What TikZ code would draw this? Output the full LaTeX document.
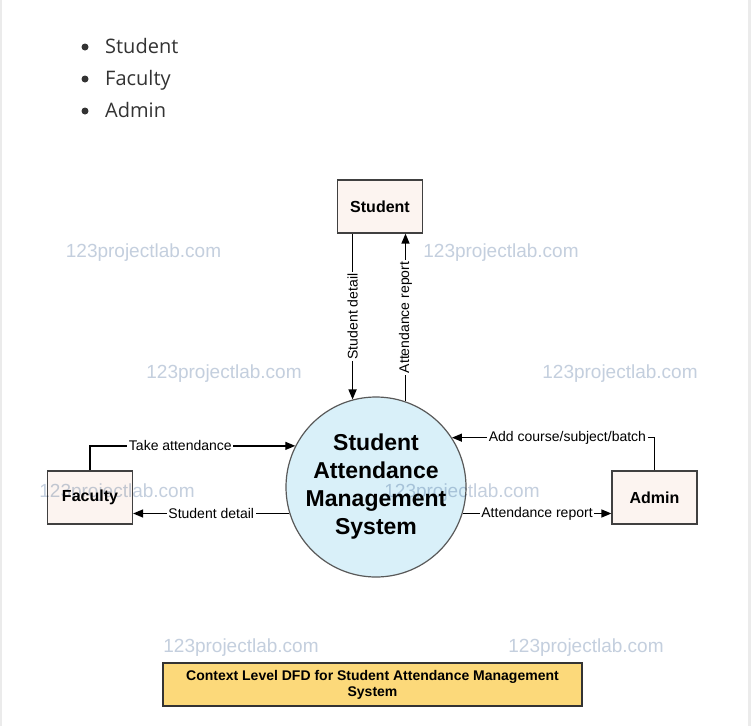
\documentclass[tikz,border=0pt]{standalone}
\usepackage{fontspec}
\setmainfont{Liberation Sans}
\newfontfamily\listfont{Open Sans}
\usepackage{xcolor}
\usetikzlibrary{arrows.meta, positioning, calc}

\definecolor{entityfill}{RGB}{252,244,240}
\definecolor{procfill}{RGB}{217,240,249}
\definecolor{titlefill}{RGB}{252,217,122}
\definecolor{wmarkgray}{RGB}{196,207,222}
\definecolor{listgray}{RGB}{51,51,51}
\definecolor{edgegray}{RGB}{235,235,235}

\begin{document}
\begin{tikzpicture}[x=1pt, y=-1pt,
    entity/.style={rectangle, draw=black!75, line width=1.2pt, fill=entityfill, minimum width=85pt, minimum height=53pt, font=\fontsize{16}{18}\selectfont\bfseries},
    process/.style={circle, draw=black!65, line width=1.2pt, fill=procfill, minimum size=180pt, inner sep=0pt, align=center, font=\fontsize{23}{28}\selectfont\bfseries},
    flow/.style={-{Triangle[length=10pt, width=8pt]}, line width=1.4pt},
    flowlabel/.style={fill=white, inner sep=1.5pt, font=\fontsize{14}{16}\selectfont},
    wmark/.style={text=wmarkgray, font=\fontsize{19}{21}\selectfont, blend mode=multiply},
    titlebox/.style={rectangle, draw=black!80, line width=1.2pt, fill=titlefill, minimum width=419pt, minimum height=43pt, inner sep=0pt, align=center, font=\fontsize{14}{16}\selectfont\bfseries},
    listitem/.style={anchor=base west, inner sep=0pt, text=listgray, font=\listfont\fontsize{20}{24}\selectfont},
    bulletdot/.style={circle, fill=listgray, inner sep=0pt, minimum size=7pt},
]

% Page
\fill[white] (0,0) rectangle (751,726);
\fill[edgegray] (0,0) rectangle (2,726);
\fill[edgegray] (748,0) rectangle (751,726);
\useasboundingbox (0,0) rectangle (751,726);

% Bullet list
\node[bulletdot] (dot1) at (85,47) {};
\node[listitem] (item1) at (105,53) {Student};
\node[bulletdot] (dot2) at (85,79) {};
\node[listitem] (item2) at (105,85) {Faculty};
\node[bulletdot] (dot3) at (85,111) {};
\node[listitem] (item3) at (105,117) {Admin};

% Process
\node[process] (sys) at (376,487) {Student\\Attendance\\Management\\System};

% External entities
\node[entity] (stud) at (380,206.5) {Student};
\node[entity] (fac) at (90,497.5) {Faculty};
\node[entity] (adm) at (654.5,497.5) {Admin};

% Student flows
\draw[flow] (stud.south -| sys.105) -- (sys.105) node[midway, flowlabel, rotate=90] {Student detail};
\draw[flow] (sys.71) -- (stud.south -| sys.71) node[midway, flowlabel, rotate=90] {Attendance report};

% Faculty flows
\draw[flow] (fac.north) |- (sys.153) node[pos=0.72, flowlabel] {Take attendance};
\draw[flow] (sys.197) -- (fac.east |- sys.197) node[midway, flowlabel] {Student detail};

% Admin flows
\draw[flow] (adm.north) |- (sys.33) node[pos=0.715, flowlabel] {Add course/subject/batch};
\draw[flow] (sys.343) -- (adm.west |- sys.343) node[midway, flowlabel] {Attendance report};

% Caption
\node[titlebox] (title) at (372.5,684.5) {Context Level DFD for Student Attendance Management\\System};

% Watermarks
\node[wmark] (wm1) at (143.5,253) {123projectlab.com};
\node[wmark] (wm2) at (501,253) {123projectlab.com};
\node[wmark] (wm3) at (224,374) {123projectlab.com};
\node[wmark] (wm4) at (620,374) {123projectlab.com};
\node[wmark] (wm5) at (117,493) {123projectlab.com};
\node[wmark] (wm6) at (462,493) {123projectlab.com};
\node[wmark] (wm7) at (241,648) {123projectlab.com};
\node[wmark] (wm8) at (586,648) {123projectlab.com};

\end{tikzpicture}
\end{document}
